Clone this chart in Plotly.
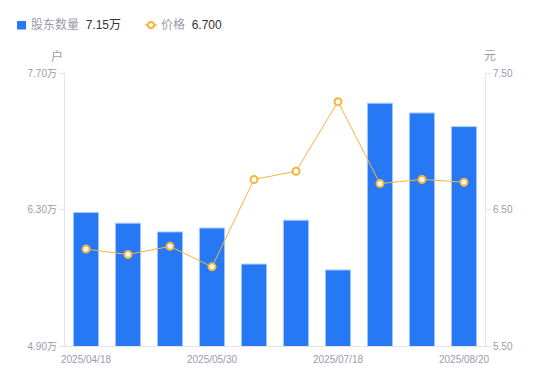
import plotly.graph_objects as go

dates = ["2025/04/18", "2025/04/30", "2025/05/20", "2025/05/30", "2025/06/20",
         "2025/06/30", "2025/07/18", "2025/07/31", "2025/08/10", "2025/08/20"]
holders = [6.27, 6.16, 6.07, 6.11, 5.74, 6.19, 5.68, 7.39, 7.29, 7.15]  # 万户
price = [6.21, 6.17, 6.23, 6.08, 6.72, 6.78, 7.29, 6.69, 6.72, 6.70]    # 元

left_ticks = [4.90, 6.30, 7.70]
right_ticks = [5.50, 6.50, 7.50]
x_tick_labels = ["2025/04/18", "2025/05/30", "2025/07/18", "2025/08/20"]

BLUE = "#2778F5"
ORANGE = "#F7B43C"
GRAY = "#9b9bab"
DARK = "#333333"
AXIS = "#e3e3e8"
FONT = "Liberation Sans, Noto Sans CJK SC, sans-serif"

OFF = 8  # page body margin
W, H = 534, 365
L, T = 57, 65
PW, PH = 420, 273
R = W - L - PW
B = H - T - PH


def px(x):
    return (x - OFF - L) / PW


def py(y):
    return (T + PH - (y - OFF)) / PH


fig = go.Figure()
fig.add_trace(go.Bar(
    x=dates, y=holders, yaxis="y", name="股东数量",
    marker=dict(color=BLUE, line=dict(color="#a9c9fb", width=1)),
    width=0.6, hoverinfo="skip",
))
fig.add_trace(go.Scatter(
    x=dates, y=price, yaxis="y2", name="价格", mode="lines+markers",
    line=dict(color=ORANGE, width=1),
    marker=dict(size=7, color="white", line=dict(color=ORANGE, width=2)),
    hoverinfo="skip",
))

fig.update_layout(
    width=W, height=H,
    margin=dict(l=L, r=R, t=T, b=B),
    paper_bgcolor="white", plot_bgcolor="white",
    showlegend=False,
    font=dict(family=FONT, size=10, color=GRAY),
    xaxis=dict(
        type="category", range=[-0.5, len(dates) - 0.5], automargin=False,
        tickmode="array", tickvals=x_tick_labels, ticktext=x_tick_labels,
        showline=True, linecolor=AXIS, linewidth=1,
        showgrid=False, ticks="", zeroline=False, ticklabelstandoff=4,
        tickfont=dict(size=10, color=GRAY),
    ),
    yaxis=dict(
        range=[left_ticks[0], left_ticks[-1]], automargin=False,
        tickvals=left_ticks, ticktext=[f"{v:.2f}万" for v in left_ticks],
        showline=True, linecolor=AXIS, linewidth=1,
        ticks="outside", ticklen=5, tickcolor=AXIS,
        showgrid=False, zeroline=False,
        tickfont=dict(size=10, color=GRAY),
    ),
    yaxis2=dict(
        overlaying="y", side="right", automargin=False,
        range=[right_ticks[0], right_ticks[-1]],
        tickvals=right_ticks, ticktext=[f"{v:.2f}" for v in right_ticks],
        showline=True, linecolor=AXIS, linewidth=1,
        ticks="outside", ticklen=5, tickcolor=AXIS,
        showgrid=False, zeroline=False,
        tickfont=dict(size=10, color=GRAY),
    ),
)

# axis unit titles
fig.add_annotation(xref="paper", yref="paper", x=px(57), y=py(56), text="户",
                   xanchor="center", yanchor="middle", showarrow=False,
                   font=dict(size=12, color=GRAY))
fig.add_annotation(xref="paper", yref="paper", x=px(490), y=py(56), text="元",
                   xanchor="center", yanchor="middle", showarrow=False,
                   font=dict(size=12, color=GRAY))

# custom legend
fig.add_shape(type="rect", xref="paper", yref="paper",
              x0=px(17), x1=px(26), y0=py(21), y1=py(29.5),
              fillcolor=BLUE, line=dict(width=0))
fig.add_annotation(xref="paper", yref="paper", x=px(29), y=py(25),
                   xanchor="left", yanchor="middle",
                   text=f"股东数量  <span style='color:{DARK}'>{holders[-1]:.2f}万</span>",
                   showarrow=False, font=dict(size=12, color=GRAY))
fig.add_shape(type="line", xref="paper", yref="paper",
              x0=px(145), x1=px(157), y0=py(25), y1=py(25),
              line=dict(color=ORANGE, width=1.5))
fig.add_shape(type="circle", xref="paper", yref="paper",
              x0=px(148), x1=px(154), y0=py(22), y1=py(28),
              fillcolor="white", line=dict(color=ORANGE, width=2))
fig.add_annotation(xref="paper", yref="paper", x=px(159), y=py(25),
                   xanchor="left", yanchor="middle",
                   text=f"价格  <span style='color:{DARK}'>{price[-1]:.3f}</span>",
                   showarrow=False, font=dict(size=12, color=GRAY))

fig.write_html("out.html")
